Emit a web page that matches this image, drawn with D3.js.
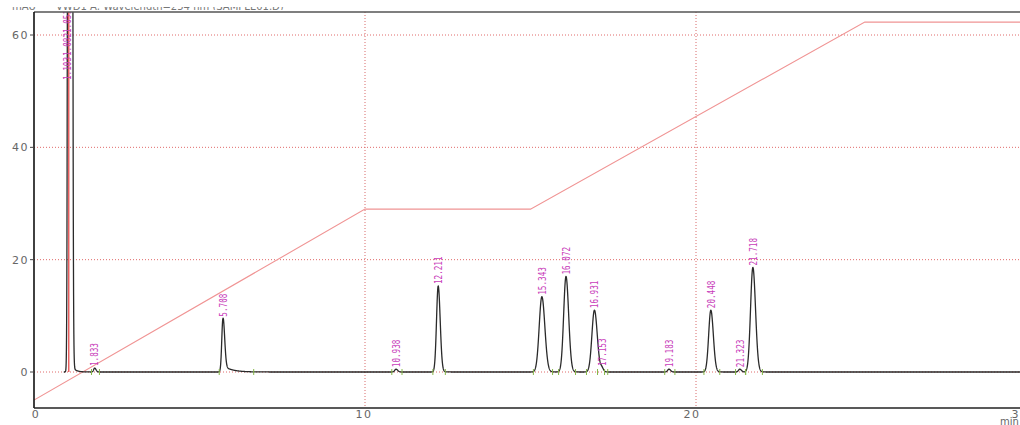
<!DOCTYPE html>
<html>
<head>
<meta charset="utf-8">
<script src="https://cdn.jsdelivr.net/npm/d3@7"></script>
<style>
  html, body { margin: 0; padding: 0; background: #fff; overflow: hidden; }
  svg { display: block; }
</style>
</head>
<body>
<svg id="chart" width="1020" height="425"></svg>
<script>
// Peak table of the trace (retention time in min, height in mAU, left/right widths)
const peakTimes   = [1.085, 1.833, 5.708, 10.938, 12.211, 15.343, 16.072, 16.931, 17.153, 19.183, 20.448, 21.323, 21.718];
const peakHeights = [2000,  0.7,   9.5,   0.5,    15.3,   13.4,   17.0,   11.0,   0.7,    0.5,    11.0,   0.5,    18.6];
const sigmaLeft   = [0.030, 0.03,  0.035, 0.04,   0.050,  0.080,  0.070,  0.075,  0.04,   0.04,   0.065,  0.04,   0.070];
const sigmaRight  = [0.035, 0.04,  0.050, 0.05,   0.060,  0.090,  0.080,  0.085,  0.05,   0.05,   0.075,  0.05,   0.080];
const tailHeights = [2.0,   0,     1.2,   0,      0.2,    0.2,    0.2,    0.2,    0,      0,      0.15,   0,      0.2];
const tailTaus    = [0.10,  0.1,   0.25,  0.1,    0.10,   0.10,   0.10,   0.10,   0.1,    0.1,    0.10,   0.1,    0.10];
// Overlapping retention-time labels of the solvent front, stacked bottom to top
const solventLabels = ["1.103", "1.082", "1.051"];
const solventLabelStarts = [80, 56, 33];

// Gradient program overlay (min, plotted value)
const gradTimes  = [0, 10, 15, 25.1, 31];
const gradValues = [-5, 29, 29, 62.3, 62.3];

// Axis ticks
const xTicks = [0, 10, 20, 30];
const yTicks = [0, 20, 40, 60];
const gridX = [10, 20];

const svg = d3.select("#chart");
const plotLeft = 34, plotTop = 12, plotBottom = 408, plotRight = 1020;

const x = d3.scaleLinear().domain([0, 30]).range([34, 1027]);
const y = d3.scaleLinear().domain([0, 60]).range([372, 35]);

const defs = svg.append("defs");
defs.append("clipPath").attr("id", "plot")
  .append("rect").attr("x", plotLeft).attr("y", plotTop)
  .attr("width", plotRight - plotLeft).attr("height", plotBottom - plotTop);
defs.append("clipPath").attr("id", "header")
  .append("rect").attr("x", 0).attr("y", 7).attr("width", 1020).attr("height", 3);

// Grid: dotted red
const grid = svg.append("g");
grid.selectAll("line.h").data(yTicks).join("line")
  .attr("x1", plotLeft).attr("x2", plotRight)
  .attr("y1", d => y(d)).attr("y2", d => y(d))
  .attr("stroke", "#e06a6a").attr("stroke-width", 1).attr("stroke-dasharray", "1,2");
grid.selectAll("line.v").data(gridX).join("line")
  .attr("x1", d => x(d)).attr("x2", d => x(d))
  .attr("y1", plotTop).attr("y2", plotBottom)
  .attr("stroke", "#d86a6a").attr("stroke-width", 1).attr("stroke-dasharray", "1,2");

// Gradient overlay
svg.append("path")
  .datum(gradTimes.map((t, i) => [t, gradValues[i]]))
  .attr("clip-path", "url(#plot)")
  .attr("d", d3.line().x(d => x(d[0])).y(d => y(d[1])))
  .attr("fill", "none").attr("stroke", "#f09494").attr("stroke-width", 1.1);

// Chromatogram trace
function signal(t) {
  let s = 0;
  for (let i = 0; i < peakTimes.length; i++) {
    const dt = t - peakTimes[i];
    const sg = dt < 0 ? sigmaLeft[i] : sigmaRight[i];
    s += peakHeights[i] * Math.exp(-0.5 * (dt / sg) * (dt / sg));
    if (dt > 0 && tailHeights[i] > 0) {
      s += tailHeights[i] * (1 - Math.exp(-dt / sigmaRight[i])) * Math.exp(-dt / tailTaus[i]);
    }
  }
  return s;
}
const tSamples = d3.range(0.9, 31, 0.004);

svg.append("path")
  .datum(tSamples)
  .attr("clip-path", "url(#plot)")
  .attr("d", d3.line().x(t => x(t)).y(t => Math.max(plotTop - 5, y(signal(t)))))
  .attr("fill", "none").attr("stroke", "#2a2a2a").attr("stroke-width", 1.3);

// Solvent marker line
svg.append("line")
  .attr("x1", x(1.051)).attr("x2", x(1.051))
  .attr("y1", plotTop).attr("y2", y(0))
  .attr("stroke", "#e23a3a").attr("stroke-width", 1.2);

// Integration marks at peak starts and ends
const marks = [];
peakTimes.forEach((t, i) => {
  if (i === 0) return;
  marks.push(t - 3.2 * sigmaLeft[i]);
  marks.push(t + 3.6 * sigmaRight[i] + (tailHeights[i] > 0.5 ? 3 * tailTaus[i] : 0));
});
svg.selectAll("line.mark").data(marks).join("line")
  .attr("x1", d => x(d)).attr("x2", d => x(d))
  .attr("y1", y(0) - 3).attr("y2", y(0) + 3)
  .attr("stroke", "#86b84a").attr("stroke-width", 1);

// Retention-time labels, vertical, above each apex
const labelColor = "#c83dba";
function rtLabel(sel, txt) {
  return sel.attr("font-family", "DejaVu Sans Mono, monospace")
    .attr("font-size", 10)
    .attr("textLength", txt.length * 4.6)
    .attr("lengthAdjust", "spacingAndGlyphs")
    .attr("fill", labelColor)
    .text(txt);
}
peakTimes.forEach((t, i) => {
  if (i === 0) return;
  const txt = t.toFixed(3);
  const px = x(t) + 3.8, py = y(peakHeights[i]) - 2;
  rtLabel(svg.append("text")
    .attr("transform", `translate(${px},${py}) rotate(-90)`), txt);
});
const solventGroup = svg.append("g").attr("clip-path", "url(#plot)");
solventLabels.forEach((txt, i) => {
  rtLabel(solventGroup.append("text")
    .attr("transform", `translate(${x(peakTimes[0]) + 1},${solventLabelStarts[i]}) rotate(-90)`), txt);
});

// Frame
svg.append("line").attr("x1", plotLeft).attr("x2", plotRight).attr("y1", plotTop).attr("y2", plotTop)
  .attr("stroke", "#555").attr("stroke-width", 1.5);
svg.append("line").attr("x1", plotLeft).attr("x2", plotLeft).attr("y1", plotTop).attr("y2", plotBottom)
  .attr("stroke", "#111").attr("stroke-width", 1.6);
svg.append("line").attr("x1", plotLeft).attr("x2", plotRight).attr("y1", plotBottom).attr("y2", plotBottom)
  .attr("stroke", "#222").attr("stroke-width", 1.5);

// Y axis ticks and labels
svg.selectAll("line.yt").data(yTicks).join("line")
  .attr("x1", plotLeft - 4).attr("x2", plotLeft).attr("y1", d => y(d)).attr("y2", d => y(d))
  .attr("stroke", "#444");
svg.selectAll("text.yl").data(yTicks).join("text")
  .attr("x", 29).attr("y", d => y(d) + 4)
  .attr("text-anchor", "end")
  .attr("font-family", "DejaVu Sans, sans-serif").attr("font-size", 11)
  .attr("letter-spacing", 1.5)
  .attr("fill", "#666")
  .text(d => d);

// X axis labels (the printed labels sit a little left of their ticks)
svg.selectAll("text.xl").data(xTicks).join("text")
  .attr("x", d => x(d) + 2 - d * 0.3).attr("y", 418)
  .attr("text-anchor", "middle")
  .attr("font-family", "DejaVu Sans, sans-serif").attr("font-size", 11)
  .attr("letter-spacing", 1.5)
  .attr("fill", "#666")
  .text(d => d);
svg.append("text").attr("x", 1000).attr("y", 425)
  .attr("font-family", "DejaVu Sans, sans-serif").attr("font-size", 10)
  .attr("fill", "#666").text("min");

// Header line, printed mostly outside the page edge
const header = svg.append("g").attr("clip-path", "url(#header)");
header.append("text").attr("x", 12).attr("y", 10)
  .attr("font-family", "DejaVu Sans, sans-serif").attr("font-size", 10)
  .attr("fill", "#777").text("mAU");
header.append("text").attr("x", 56).attr("y", 10)
  .attr("font-family", "DejaVu Sans, sans-serif").attr("font-size", 10)
  .attr("fill", "#777").text("VWD1 A, Wavelength=254 nm (SAMPLE01.D)");
</script>
</body>
</html>
